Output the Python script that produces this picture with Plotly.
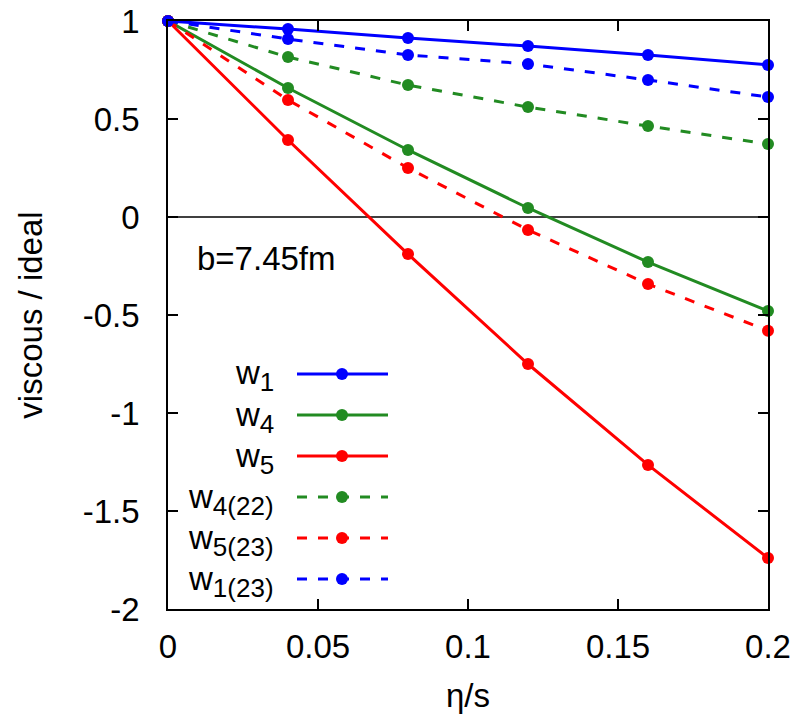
import plotly.graph_objects as go

# ---- data ----
eta_s = [0.0, 0.04, 0.08, 0.12, 0.16, 0.2]
w1 = [1.0, 0.959, 0.913, 0.872, 0.827, 0.776]
w4 = [1.0, 0.658, 0.342, 0.046, -0.230, -0.480]
w5 = [1.0, 0.393, -0.189, -0.750, -1.265, -1.740]
w4_22 = [1.0, 0.816, 0.673, 0.561, 0.464, 0.372]
w5_23 = [1.0, 0.597, 0.250, -0.066, -0.342, -0.580]
w1_23 = [1.0, 0.908, 0.827, 0.781, 0.699, 0.612]

series_base = ["w", "w", "w", "w", "w", "w"]
series_sub = ["1", "4", "5", "4(22)", "5(23)", "1(23)"]
series_values = [w1, w4, w5, w4_22, w5_23, w1_23]
series_colors = ["#0000ff", "#228b22", "#ff0000", "#228b22", "#ff0000", "#0000ff"]
series_dash = ["solid", "solid", "solid", "10px,11px", "10px,11px", "10px,11px"]

x_ticks = [0, 0.05, 0.1, 0.15, 0.2]
x_ticklabels = ["0", "0.05", "0.1", "0.15", "0.2"]
y_ticks = [1, 0.5, 0, -0.5, -1, -1.5, -2]
y_ticklabels = ["1", "0.5", "0", "-0.5", "-1", "-1.5", "-2"]

FONT = "Liberation Sans, Arial, sans-serif"
FS = 33
FS_SUB = 26

# plot area in pixels
W, H = 805, 714
L, R, T, B = 168, 37, 21, 105
PW, PH = W - L - R, H - T - B

fig = go.Figure()
for base, sub, vals, col, dash in zip(series_base, series_sub, series_values, series_colors, series_dash):
    fig.add_trace(go.Scatter(
        x=eta_s, y=vals, mode="lines+markers", name=f"{base}<sub>{sub}</sub>",
        line=dict(color=col, width=3, dash=dash),
        marker=dict(color=col, size=12),
        cliponaxis=False, showlegend=False,
    ))

# custom gnuplot-style legend (text right-aligned, sample to the right)
def px_to_paper_x(px):
    return (px - L) / PW

def px_to_paper_y(py):
    return (H - B - py) / PH

shapes = []
annotations = []
leg_y0, leg_dy = 374, 41
for i, (base, sub, col, dash) in enumerate(zip(series_base, series_sub, series_colors, series_dash)):
    py = leg_y0 + i * leg_dy
    yp = px_to_paper_y(py)
    shapes.append(dict(type="line", xref="paper", yref="paper",
                       x0=px_to_paper_x(297), x1=px_to_paper_x(388), y0=yp, y1=yp,
                       line=dict(color=col, width=3, dash=dash)))
    shapes.append(dict(type="circle", xref="paper", yref="paper",
                       xsizemode="pixel", ysizemode="pixel",
                       xanchor=px_to_paper_x(342), yanchor=yp,
                       x0=-6, x1=6, y0=-6, y1=6,
                       fillcolor=col, line=dict(color=col, width=0)))
    label = f"{base}<sub><span style='font-size:{FS_SUB}px'>{sub}</span></sub>"
    annotations.append(dict(text=label, xref="paper", yref="paper",
                            x=px_to_paper_x(276), y=px_to_paper_y(py + 2), xanchor="right", yanchor="middle",
                            showarrow=False, font=dict(family=FONT, size=FS, color="black")))

# zero line
shapes.append(dict(type="line", xref="paper", yref="y", x0=0, x1=1, y0=0, y1=0,
                   line=dict(color="black", width=1.5), layer="below"))

annotations.append(dict(text="b=7.45fm", xref="paper", yref="paper",
                        x=px_to_paper_x(195), y=px_to_paper_y(258), xanchor="left", yanchor="middle",
                        showarrow=False, font=dict(family=FONT, size=FS, color="black")))

axis_common = dict(
    showgrid=False, zeroline=False, showline=True, linecolor="black", linewidth=1.5,
    mirror="ticks", ticks="inside", ticklen=10, tickwidth=1.5, tickcolor="black",
    tickfont=dict(family=FONT, size=FS, color="black"), automargin=False,
)

fig.update_layout(
    width=W, height=H,
    margin=dict(l=L, r=R, t=T, b=B),
    plot_bgcolor="white", paper_bgcolor="white",
    shapes=shapes, annotations=annotations,
    xaxis=dict(range=[0, 0.2], tickvals=x_ticks, ticktext=x_ticklabels,
               title=dict(text="η/s", font=dict(family=FONT, size=FS, color="black"), standoff=22),
               ticklabelstandoff=8, **axis_common),
    yaxis=dict(range=[-2, 1], tickvals=y_ticks, ticktext=y_ticklabels,
               title=dict(text="viscous / ideal", font=dict(family=FONT, size=FS, color="black"), standoff=30),
               ticklabelstandoff=20, **axis_common),
)

fig.write_html("out.html")
